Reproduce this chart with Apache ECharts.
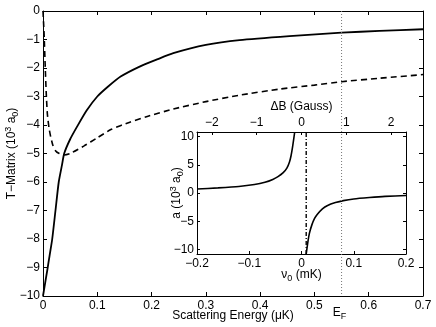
<!DOCTYPE html>
<html>
<head>
<meta charset="utf-8">
<script src="https://cdn.jsdelivr.net/npm/echarts@6/dist/echarts.min.js"></script>
<style>
html, body { margin: 0; padding: 0; background: #fff; }
#main { width: 436px; height: 327px; }
</style>
</head>
<body>
<div id="main"></div>
<script>
// main panel: T-matrix vs scattering energy (uK), units 10^3 a0
var energySolid = [0, 0.003, 0.008, 0.012, 0.017, 0.023, 0.029, 0.035, 0.039, 0.05, 0.063, 0.08, 0.1, 0.12, 0.143, 0.178, 0.21, 0.24, 0.3, 0.362, 0.454, 0.55, 0.62, 0.7];
var tSolid = [-10, -9.65, -9.08, -8.6, -8.0, -7.0, -6.0, -5.4, -5.0, -4.5, -4.05, -3.5, -3.0, -2.65, -2.3, -1.95, -1.7, -1.48, -1.19, -1.02, -0.88, -0.76, -0.7, -0.64];
var energyDash = [0, 0.001, 0.002, 0.004, 0.006, 0.008, 0.011, 0.014, 0.018, 0.023, 0.03, 0.039, 0.05, 0.075, 0.1, 0.125, 0.16, 0.192, 0.24, 0.3, 0.36, 0.436, 0.5, 0.55, 0.62, 0.7];
var tDash = [0, -0.4, -0.8, -1.9, -2.9, -3.6, -4.1, -4.4, -4.7, -4.9, -5.0, -5.05, -5.0, -4.74, -4.45, -4.16, -3.9, -3.7, -3.44, -3.18, -2.96, -2.74, -2.6, -2.48, -2.36, -2.23];
var eFermi = 0.55;

// inset: scattering length vs detuning nu0 (mK), units 10^3 a0
var nuLeft = [-0.2, -0.16, -0.12, -0.09, -0.07, -0.055, -0.045, -0.035, -0.028, -0.023, -0.02, -0.017, -0.013];
var aLeft = [0.7, 0.9, 1.15, 1.5, 1.9, 2.4, 2.9, 3.6, 4.4, 5.5, 6.6, 8.2, 10.8];
var nuRight = [0.009, 0.012, 0.015, 0.02, 0.025, 0.03, 0.04, 0.05, 0.065, 0.08, 0.1, 0.13, 0.16, 0.2];
var aRight = [-10.8, -8.8, -7.2, -5.6, -4.5, -3.8, -2.8, -2.2, -1.7, -1.35, -1.05, -0.8, -0.6, -0.45];
var nuPole = 0.009;
var insetTicks = [-10, -5, 0, 5, 10];
var gaussTicks = [-2, -1, 0, 1, 2];

function pairs(xs, ys) {
  return xs.map(function (x, i) { return [x, ys[i]]; });
}
function fmt(v) {
  return String(Math.round(v * 100) / 100).replace('-', '\u2212');
}

var font = 'Liberation Sans, Arial, Helvetica, sans-serif';
var lbl = { color: '#000', fontSize: 12, fontFamily: font, formatter: fmt };
var axLine = { show: true, onZero: false, lineStyle: { color: '#000', width: 1 } };
var rich = {
  t: { fontSize: 12, fontFamily: font, color: '#000', lineHeight: 16 },
  s: { fontSize: 9, fontFamily: font, color: '#000', verticalAlign: 'top', lineHeight: 16 },
  b: { fontSize: 9, fontFamily: font, color: '#000', verticalAlign: 'bottom', lineHeight: 13 }
};

var myChart = echarts.init(document.getElementById('main'));
option = {
  animation: false,
  backgroundColor: '#fff',
  grid: [
    { left: 43, right: 13, top: 11, bottom: 31, outerBoundsMode: 'none', containLabel: false },
    { left: 197, right: 30, top: 132, bottom: 73, outerBoundsMode: 'none', containLabel: false }
  ],
  xAxis: [{
    gridIndex: 0, type: 'value', position: 'bottom', min: 0, max: 0.7, interval: 0.1,
    axisLine: axLine, splitLine: { show: false },
    axisTick: { inside: true, length: 4, lineStyle: { color: '#000' } },
    axisLabel: Object.assign({ margin: 4 }, lbl),
    name: 'Scattering Energy (\u03bcK)', nameLocation: 'middle', nameGap: 14, nameMoveOverlap: false,
    nameTextStyle: { color: '#000', fontSize: 12, fontFamily: font }
  }, {
    gridIndex: 0, type: 'value', position: 'top', min: 0, max: 0.7, interval: 0.1,
    axisLine: axLine, splitLine: { show: false },
    axisTick: { inside: true, length: 4, lineStyle: { color: '#000' } },
    axisLabel: { show: false }
  }, {
    gridIndex: 1, type: 'value', position: 'bottom', min: -0.2, max: 0.2, interval: 0.1,
    axisLine: axLine, splitLine: { show: false },
    axisTick: { inside: true, length: 3, lineStyle: { color: '#000' } },
    axisLabel: Object.assign({ margin: 4 }, lbl),
    name: '{t|\u03bd}{b|0}{t| (mK)}', nameLocation: 'middle', nameGap: 13, nameMoveOverlap: false,
    nameTextStyle: { rich: rich }
  }, {
    gridIndex: 1, type: 'value', position: 'top', min: -2.33, max: 2.33,
    axisLine: axLine, splitLine: { show: false },
    axisTick: { inside: true, length: 3, customValues: gaussTicks, lineStyle: { color: '#000' } },
    axisLabel: Object.assign({ margin: 3, customValues: gaussTicks }, lbl),
    name: '\u0394B (Gauss)', nameLocation: 'middle', nameGap: 19, nameMoveOverlap: false,
    nameTextStyle: { color: '#000', fontSize: 12, fontFamily: font }
  }],
  yAxis: [{
    gridIndex: 0, type: 'value', position: 'left', min: -10, max: 0, interval: 1,
    axisLine: axLine, splitLine: { show: false },
    axisTick: { inside: true, length: 4, lineStyle: { color: '#000' } },
    axisLabel: Object.assign({ margin: 3 }, lbl),
    name: '{t|T\u2212Matrix (10}{s|3}{t| a}{b|0}{t|)}', nameLocation: 'middle', nameGap: 23,
    nameMoveOverlap: false, nameRotate: 90, nameTextStyle: { rich: rich }
  }, {
    gridIndex: 0, type: 'value', position: 'right', min: -10, max: 0, interval: 1,
    axisLine: axLine, splitLine: { show: false },
    axisTick: { inside: true, length: 4, lineStyle: { color: '#000' } },
    axisLabel: { show: false }
  }, {
    gridIndex: 1, type: 'value', position: 'left', min: -10.8, max: 10.8,
    axisLine: axLine, splitLine: { show: false },
    axisTick: { inside: true, length: 3, customValues: insetTicks, lineStyle: { color: '#000' } },
    axisLabel: Object.assign({ margin: 3, customValues: insetTicks }, lbl),
    name: '{t|a (10}{s|3}{t| a}{b|0}{t|)}', nameLocation: 'middle', nameGap: 12,
    nameMoveOverlap: false, nameRotate: 90, nameTextStyle: { rich: rich }
  }, {
    gridIndex: 1, type: 'value', position: 'right', min: -10.8, max: 10.8,
    axisLine: axLine, splitLine: { show: false },
    axisTick: { inside: true, length: 3, customValues: insetTicks, lineStyle: { color: '#000' } },
    axisLabel: { show: false }
  }],
  series: [{
    type: 'line', xAxisIndex: 0, yAxisIndex: 0, symbol: 'none', smooth: 0.2,
    data: pairs(energySolid, tSolid),
    lineStyle: { color: '#000', width: 1.8 }
  }, {
    type: 'line', xAxisIndex: 0, yAxisIndex: 0, symbol: 'none', smooth: 0.2,
    data: pairs(energyDash, tDash),
    lineStyle: { color: '#000', width: 1.6, type: [6, 4] }
  }, {
    type: 'line', xAxisIndex: 0, yAxisIndex: 0, symbol: 'none', z: 5,
    data: [[eFermi, 0], [eFermi, -10]],
    lineStyle: { color: '#777', width: 1, type: [1, 2] }
  }, {
    type: 'line', xAxisIndex: 2, yAxisIndex: 2, symbol: 'none', smooth: 0.2,
    data: pairs(nuLeft, aLeft),
    lineStyle: { color: '#000', width: 1.6 }
  }, {
    type: 'line', xAxisIndex: 2, yAxisIndex: 2, symbol: 'none', smooth: 0.2,
    data: pairs(nuRight, aRight),
    lineStyle: { color: '#000', width: 1.6 }
  }, {
    type: 'line', xAxisIndex: 2, yAxisIndex: 2, symbol: 'none',
    data: [[nuPole, -10.8], [nuPole, 10.8]],
    lineStyle: { color: '#000', width: 1.4, type: [4, 2, 1, 2] }
  }]
};
myChart.setOption(option);

// E_F label under the main axis, placed at the Fermi energy
var px = myChart.convertToPixel({ xAxisIndex: 0 }, eFermi);
myChart.setOption({
  graphic: [{
    type: 'text', x: px - 2, y: 313,
    style: {
      text: '{t|E}{b|F}', rich: rich, align: 'center', verticalAlign: 'middle'
    }
  }]
});
</script>
</body>
</html>
